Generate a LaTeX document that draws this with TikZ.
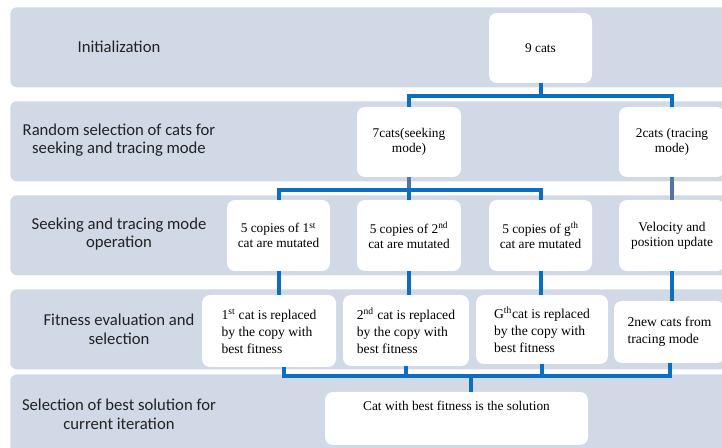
\documentclass[tikz,border=0pt]{standalone}
\usepackage{fontspec}
\setmainfont{Liberation Serif}
\newfontfamily\bandfont{Carlito}
\usetikzlibrary{calc,positioning}
\definecolor{BandFill}{HTML}{D1D8E6}
\definecolor{LinkBlue}{HTML}{0A6FC2}
\definecolor{LinkGrey}{HTML}{5373A8}
\definecolor{LabelInk}{HTML}{222222}
\tikzset{
  band/.style={fill=BandFill, rounded corners=5pt, minimum width=560pt, minimum height=60pt, anchor=north west, inner sep=0pt},
  stage/.style={font=\bandfont\fontsize{12.5}{14}\selectfont, text=LabelInk, align=center},
  cell/.style={fill=white, rounded corners=6pt, align=center, inner sep=0pt, font=\fontsize{10}{11.25}\selectfont},
  note/.style={cell, align=left, font=\fontsize{10.2}{12.75}\selectfont},
  link/.style={draw=LinkBlue, line width=3pt},
  thin link/.style={draw=LinkGrey, line width=2.6pt},
}

\begin{document}
\begin{tikzpicture}[x=0.75pt, y=-0.75pt]
  \useasboundingbox (0,0) rectangle (722,448);
  \clip (0,0) rectangle (722,448);
  % bands
  \node[band] (init) at (10,7) {};
  \node[band] (rand) at (10,101) {};
  \node[band] (oper) at (10,195) {};
  \node[band] (fit) at (10,289) {};
  \node[band, minimum height=80pt] (sel) at (10,374) {};
  \node[stage] (initlbl) at (119,47) {Initialization};
  \node[stage] (randlbl) at (119,140) {Random selection of cats for\\seeking and tracing mode};
  \node[stage] (operlbl) at (119,234) {Seeking and tracing mode\\operation};
  \node[stage] (fitlbl) at (119,329) {Fitness evaluation and\\selection};
  \node[stage] (sellbl) at (119,414) {Selection of best solution for\\current iteration};
  % cats
  \node[cell, minimum width=77.25pt, minimum height=52.5pt] (cats9) at (540.5,48) {9 cats};
  \node[cell, minimum width=78pt, minimum height=52.5pt] (seek7) at (409,142) {7cats(seeking\\mode)};
  \node[cell, minimum width=79.5pt, minimum height=52.5pt] (trace2) at (672,142) {2cats (tracing\\mode)};
  \node[cell, minimum width=77.25pt, minimum height=53.25pt] (mut1) at (278.5,235.5) {5 copies of 1\textsuperscript{st}\\cat are mutated};
  \node[cell, minimum width=78pt, minimum height=53.25pt] (mut2) at (409,235.5) {5 copies of 2\textsuperscript{nd}\\cat are mutated};
  \node[cell, minimum width=77.25pt, minimum height=53.25pt] (mutg) at (540.5,235.5) {5 copies of g\textsuperscript{th}\\cat are mutated};
  \node[cell, minimum width=79.5pt, minimum height=53.25pt] (vel) at (672,235.5) {Velocity and\\position update};
  \node[note, minimum width=100.5pt, minimum height=54pt] (rep1) at (269,331) {1\textsuperscript{st} cat is replaced\\by the copy with\\best fitness};
  \node[note, minimum width=94.5pt, minimum height=53.25pt] (rep2) at (406,330.5) {2\textsuperscript{nd} cat is replaced\\by the copy with\\best fitness};
  \node[note, minimum width=99pt, minimum height=51.75pt] (repg) at (542,329.5) {G\textsuperscript{th}cat is replaced\\by the copy with\\best fitness};
  \node[note, minimum width=83.25pt, minimum height=46.5pt] (new2) at (669.5,332) {2new cats from\\tracing mode};
  \node[cell, minimum width=197.25pt, minimum height=39.75pt, text height=7pt, text depth=19.5pt] (best) at (456.5,418.5) {Cat with best fitness is the solution};
  % connectors
  \coordinate (split1) at ($(cats9.south)+(0,13)$);
  \draw[link] (cats9.south) -- (split1);
  \draw[link] (seek7.north) |- (split1) -| (trace2.north);
  \coordinate (split2) at ($(seek7.south)+(0,13)$);
  \draw[thin link] (seek7.south) -- (split2);
  \draw[link] (mut1.north) |- (split2) -| (mutg.north);
  \draw[link] (split2) -- (mut2.north);
  \draw[thin link] (trace2.south) -- (vel.north);
  \draw[link] (mut1.south) -- (mut1.south |- rep1.north);
  \draw[link] (mut2.south) -- (mut2.south |- rep2.north);
  \draw[link] (mutg.south) -- (mutg.south |- repg.north);
  \draw[link] (vel.south) -- (vel.south |- new2.north);
  \coordinate (bar) at ($(best.north)+(14,-16)$);
  \draw[link] ($(rep1.south)+(15,0)$) |- (bar) -| (new2.south);
  \draw[link] (rep2.south) -- (rep2.south |- bar);
  \draw[link] (repg.south) -- (repg.south |- bar);
  \draw[link] (bar) -- (bar |- best.north);
\end{tikzpicture}
\end{document}
